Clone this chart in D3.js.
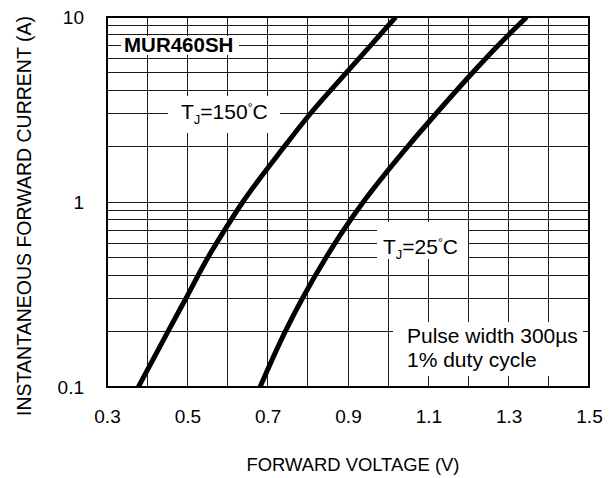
<!DOCTYPE html>
<html>
<head>
<meta charset="utf-8">
<script src="https://cdn.jsdelivr.net/npm/d3@7"></script>
<style>
  body { margin: 0; background: #fff; }
  text { font-family: "Liberation Sans", Arial, sans-serif; fill: #000; }
</style>
</head>
<body>
<div id="chart"></div>
<script>
// forward current (A) sampled along both curves
const current = [0.1, 0.2, 0.3, 0.5, 0.7, 1, 2, 3, 5, 7, 10];
// forward voltage (V) at each current
const vf150 = [0.378, 0.452, 0.496, 0.551, 0.592, 0.638, 0.742, 0.806, 0.896, 0.956, 1.019];
const vf25 = [0.681, 0.744, 0.786, 0.845, 0.888, 0.938, 1.049, 1.119, 1.210, 1.273, 1.345];

const xTicks = [0.3, 0.5, 0.7, 0.9, 1.1, 1.3, 1.5];
const yTicks = [0.1, 1, 10];

const width = 612, height = 478;
const pLeft = 107, pTop = 17, pRight = 589, pBottom = 387;

const svg = d3.select('#chart')
    .append('svg')
    .attr('width', width)
    .attr('height', height);

const x = d3.scaleLinear().domain([0.3, 1.5]).range([pLeft, pRight]);
const y = d3.scaleLog().domain([0.1, 10]).range([pBottom, pTop]);

// grid
const grid = svg.append('g')
    .attr('stroke', '#1a1a1a')
    .attr('stroke-width', 1)
    .attr('shape-rendering', 'crispEdges');

grid.selectAll('.vgrid')
    .data(d3.range(13).map(i => 0.3 + i * 0.1))
    .enter().append('line')
    .attr('x1', d => x(d)).attr('x2', d => x(d))
    .attr('y1', pTop).attr('y2', pBottom);

grid.selectAll('.hgrid')
    .data(y.ticks())
    .enter().append('line')
    .attr('x1', pLeft).attr('x2', pRight)
    .attr('y1', d => y(d)).attr('y2', d => y(d));

// white boxes behind the labels
const boxes = [
    [121, 36, 118, 19],
    [168, 96, 112, 37],
    [377, 222, 91, 37],
    [393, 322, 190, 54]
];
svg.append('g').selectAll('rect')
    .data(boxes)
    .enter().append('rect')
    .attr('x', d => d[0]).attr('y', d => d[1])
    .attr('width', d => d[2]).attr('height', d => d[3])
    .attr('fill', '#fff');

// curves
svg.append('clipPath').attr('id', 'plot-clip')
    .append('rect')
    .attr('x', pLeft).attr('y', pTop)
    .attr('width', pRight - pLeft).attr('height', pBottom - pTop);

const line = d3.line()
    .x(d => x(d[1]))
    .y(d => y(d[0]))
    .curve(d3.curveMonotoneY);

[vf150, vf25].forEach(v => {
    svg.append('path')
        .datum(current.map((c, i) => [c, v[i]]))
        .attr('clip-path', 'url(#plot-clip)')
        .attr('fill', 'none')
        .attr('stroke', '#000')
        .attr('stroke-width', 5)
        .attr('d', line);
});

// frame
svg.append('rect')
    .attr('x', pLeft).attr('y', pTop)
    .attr('width', pRight - pLeft).attr('height', pBottom - pTop)
    .attr('fill', 'none')
    .attr('stroke', '#000')
    .attr('stroke-width', 2);

// axes
const xAxis = svg.append('g')
    .attr('transform', 'translate(0,' + pBottom + ')')
    .call(d3.axisBottom(x).tickValues(xTicks).tickSize(0).tickPadding(23).tickFormat(d3.format('.1f')));
xAxis.select('.domain').remove();
xAxis.selectAll('text').style('font-size', '19px').style('font-family', null);

const yAxis = svg.append('g')
    .attr('transform', 'translate(' + pLeft + ',0)')
    .call(d3.axisLeft(y).tickValues(yTicks).tickSize(0).tickPadding(23).tickFormat(d => String(d)));
yAxis.select('.domain').remove();
yAxis.selectAll('text').style('font-size', '19px').style('font-family', null);

svg.append('text')
    .attr('x', 353).attr('y', 471)
    .attr('text-anchor', 'middle')
    .style('font-size', '18.4px')
    .text('FORWARD VOLTAGE (V)');

svg.append('text')
    .attr('transform', 'translate(31,216) rotate(-90)')
    .attr('text-anchor', 'middle')
    .style('font-size', '19.5px')
    .text('INSTANTANEOUS FORWARD CURRENT (A)');

// annotations
svg.append('text')
    .attr('x', 124).attr('y', 52)
    .style('font-size', '20.5px')
    .style('font-weight', 'bold')
    .text('MUR460SH');

function tjLabel(xp, yp, temp) {
    const t = svg.append('text').attr('x', xp).attr('y', yp).style('font-size', '21px');
    t.append('tspan').text('T');
    t.append('tspan').attr('dy', 5).style('font-size', '13px').text('J');
    t.append('tspan').attr('dy', -5).text('=' + temp);
    t.append('tspan').attr('dy', -7).style('font-size', '12px').text('°');
    t.append('tspan').attr('dy', 7).text('C');
}
tjLabel(181, 119, '150');
tjLabel(383, 254, '25');

svg.append('text')
    .attr('x', 407).attr('y', 343)
    .style('font-size', '21px')
    .text('Pulse width 300µs');
svg.append('text')
    .attr('x', 407).attr('y', 367)
    .style('font-size', '21px')
    .text('1% duty cycle');
</script>
</body>
</html>
